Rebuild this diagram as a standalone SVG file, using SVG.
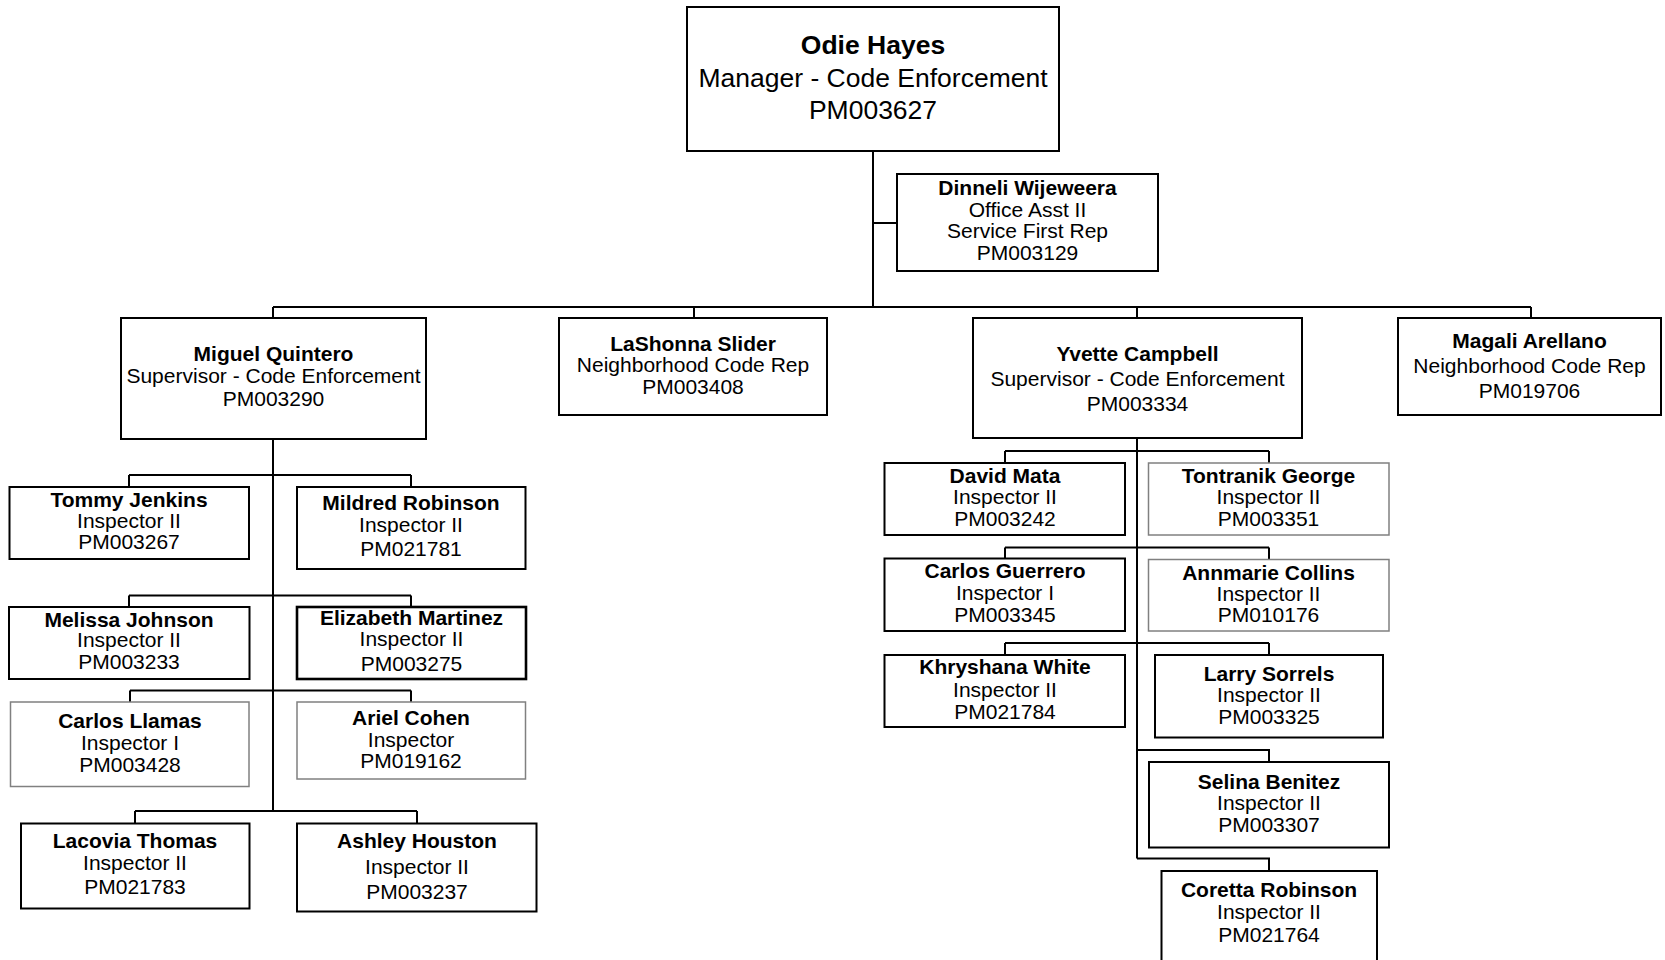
<svg xmlns="http://www.w3.org/2000/svg" width="1665" height="960" viewBox="0 0 1665 960">
<style>
.bx{fill:#fff;stroke:#000;stroke-width:2}
.gy{fill:#fff;stroke:#808080;stroke-width:1.5}
.th{fill:#fff;stroke:#000;stroke-width:2.6}
text{font-family:"Liberation Sans",Arial,sans-serif;font-size:21px;fill:#000;text-anchor:middle}
.n{font-weight:bold}
.big{font-size:26.5px}
.cn{fill:none;stroke:#000;stroke-width:2}
</style>
<rect width="1665" height="960" fill="#fff"/>
<g id="connectors">
<path class="cn" d="M873,151V307M873,223H897M273,307H1531M273,307V318M694,307V318M1137,307V318M1531,307V318"/>
<path class="cn" d="M273,439V811M129,475H411M129,475V487M411,475V487M129,595.5H411M129,595.5V607M411,595.5V607M130,690.5H411M130,690.5V702M411,690.5V702M135,811H417M135,811V823M417,811V823"/>
<path class="cn" d="M1137,438V858.5M1005,451H1269M1005,451V463M1269,451V463M1005,547.5H1269M1005,547.5V558M1269,547.5V559M1005,643H1269M1005,643V655M1269,643V655M1137,750H1269V762M1137,858.5H1269V871"/>
</g>
<g id="odie"><rect class="bx" x="687" y="7" width="372" height="144"/><text x="873" y="54" class="n big">Odie Hayes</text><text x="873" y="87" class="big">Manager - Code Enforcement</text><text x="873" y="118.5" class="big">PM003627</text></g>
<g id="dinneli"><rect class="bx" x="897" y="174" width="261" height="97"/><text x="1027.5" y="195" class="n">Dinneli Wijeweera</text><text x="1027.5" y="216.5">Office Asst II</text><text x="1027.5" y="238">Service First Rep</text><text x="1027.5" y="259.5">PM003129</text></g>
<g id="miguel"><rect class="bx" x="121" y="318" width="305" height="121"/><text x="273.5" y="361" class="n">Miguel Quintero</text><text x="273.5" y="383">Supervisor - Code Enforcement</text><text x="273.5" y="406">PM003290</text></g>
<g id="lashonna"><rect class="bx" x="559" y="318" width="268" height="97"/><text x="693" y="350.5" class="n">LaShonna Slider</text><text x="693" y="372">Neighborhood Code Rep</text><text x="693" y="394">PM003408</text></g>
<g id="yvette"><rect class="bx" x="973" y="318" width="329" height="120"/><text x="1137.5" y="360.5" class="n">Yvette Campbell</text><text x="1137.5" y="385.5">Supervisor - Code Enforcement</text><text x="1137.5" y="411">PM003334</text></g>
<g id="magali"><rect class="bx" x="1398" y="318" width="263" height="97"/><text x="1529.5" y="347.5" class="n">Magali Arellano</text><text x="1529.5" y="373">Neighborhood Code Rep</text><text x="1529.5" y="398">PM019706</text></g>
<g id="tommy"><rect class="bx" x="9.5" y="487" width="239.5" height="72"/><text x="129" y="507" class="n">Tommy Jenkins</text><text x="129" y="528">Inspector II</text><text x="129" y="549">PM003267</text></g>
<g id="mildred"><rect class="bx" x="297" y="487" width="228.5" height="82"/><text x="411" y="510" class="n">Mildred Robinson</text><text x="411" y="532">Inspector II</text><text x="411" y="556">PM021781</text></g>
<g id="melissa"><rect class="bx" x="9" y="607" width="240.5" height="72"/><text x="129" y="627" class="n">Melissa Johnson</text><text x="129" y="647">Inspector II</text><text x="129" y="669">PM003233</text></g>
<g id="elizabeth"><rect class="th" x="297" y="607" width="229" height="72"/><text x="411.5" y="625" class="n">Elizabeth Martinez</text><text x="411.5" y="646">Inspector II</text><text x="411.5" y="671">PM003275</text></g>
<g id="carlosl"><rect class="gy" x="10.5" y="702" width="238.5" height="84.5"/><text x="130" y="728" class="n">Carlos Llamas</text><text x="130" y="750">Inspector I</text><text x="130" y="772">PM003428</text></g>
<g id="ariel"><rect class="gy" x="297" y="702" width="228.5" height="77"/><text x="411" y="725" class="n">Ariel Cohen</text><text x="411" y="747">Inspector</text><text x="411" y="768">PM019162</text></g>
<g id="lacovia"><rect class="bx" x="21" y="823.5" width="228.5" height="85"/><text x="135" y="848" class="n">Lacovia Thomas</text><text x="135" y="869.5">Inspector II</text><text x="135" y="893.5">PM021783</text></g>
<g id="ashley"><rect class="bx" x="297" y="823.5" width="239.5" height="88"/><text x="417" y="848" class="n">Ashley Houston</text><text x="417" y="874">Inspector II</text><text x="417" y="899">PM003237</text></g>
<g id="david"><rect class="bx" x="884.5" y="463" width="240.5" height="72"/><text x="1005" y="483" class="n">David Mata</text><text x="1005" y="504">Inspector II</text><text x="1005" y="526">PM003242</text></g>
<g id="tontranik"><rect class="gy" x="1148.5" y="463" width="240.5" height="72"/><text x="1268.5" y="483" class="n">Tontranik George</text><text x="1268.5" y="504">Inspector II</text><text x="1268.5" y="526">PM003351</text></g>
<g id="carlosg"><rect class="bx" x="884.5" y="558.5" width="240.5" height="72.5"/><text x="1005" y="578" class="n">Carlos Guerrero</text><text x="1005" y="600">Inspector I</text><text x="1005" y="622">PM003345</text></g>
<g id="annmarie"><rect class="gy" x="1148.5" y="559.5" width="240.5" height="71.5"/><text x="1268.5" y="579.5" class="n">Annmarie Collins</text><text x="1268.5" y="601">Inspector II</text><text x="1268.5" y="622">PM010176</text></g>
<g id="khryshana"><rect class="bx" x="884.5" y="655" width="240.5" height="72"/><text x="1005" y="673.5" class="n">Khryshana White</text><text x="1005" y="697">Inspector II</text><text x="1005" y="718.5">PM021784</text></g>
<g id="larry"><rect class="bx" x="1155" y="655" width="228" height="82.5"/><text x="1269" y="681" class="n">Larry Sorrels</text><text x="1269" y="702">Inspector II</text><text x="1269" y="723.5">PM003325</text></g>
<g id="selina"><rect class="bx" x="1149" y="762" width="240" height="85.5"/><text x="1269" y="788.5" class="n">Selina Benitez</text><text x="1269" y="810">Inspector II</text><text x="1269" y="832">PM003307</text></g>
<g id="coretta"><rect class="bx" x="1161.5" y="871" width="215.5" height="100"/><text x="1269" y="897" class="n">Coretta Robinson</text><text x="1269" y="919">Inspector II</text><text x="1269" y="942">PM021764</text></g>
</svg>
